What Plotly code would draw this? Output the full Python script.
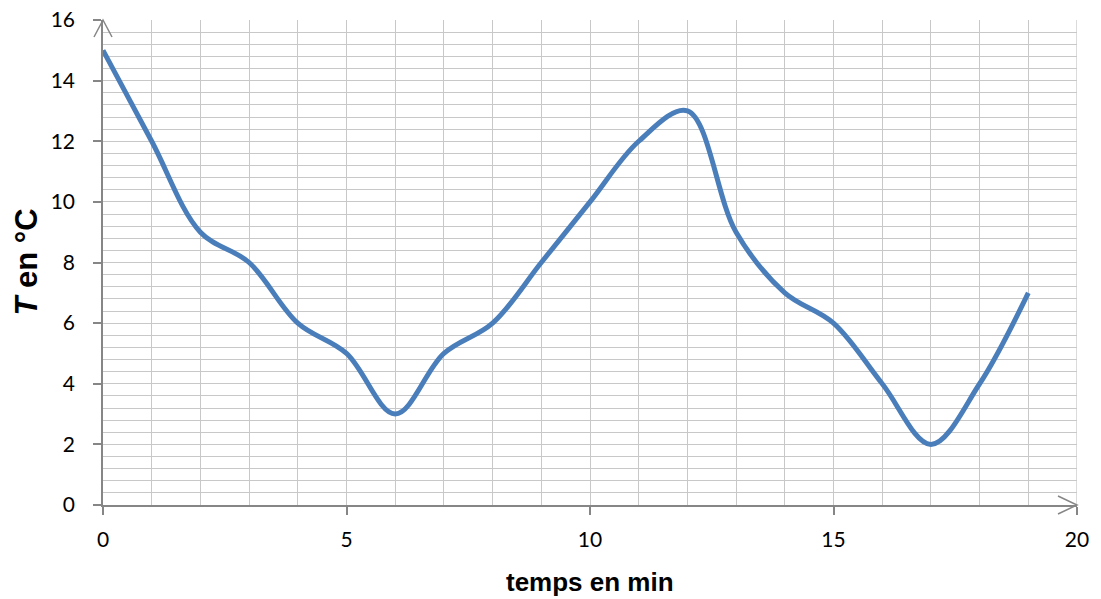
import plotly.graph_objects as go

temps = [0, 1, 2, 3, 4, 5, 6, 7, 8, 9, 10, 11, 12, 13, 14, 15, 16, 17, 18, 19]
T = [15, 12, 9, 8, 6, 5, 3, 5, 6, 8, 10, 12, 13, 9, 7, 6, 4, 2, 4, 7]
x_ticks = [0, 5, 10, 15, 20]
y_ticks = [0, 2, 4, 6, 8, 10, 12, 14, 16]

axis_col = "#868686"
grid_col = "#c8c8c8"

fig = go.Figure()
fig.add_trace(go.Scatter(
    x=temps, y=T, mode="lines",
    line=dict(color="#4a7ebb", width=5, shape="spline", smoothing=1.0),
    hoverinfo="x+y", showlegend=False,
))

tick_font = dict(family="Lato, Open Sans, sans-serif", size=21, color="#000000")
title_font = "Liberation Sans, Arial, sans-serif"

fig.update_layout(
    width=1101, height=599,
    margin=dict(l=103, r=24, t=20, b=94, autoexpand=False),
    paper_bgcolor="white", plot_bgcolor="white",
    xaxis=dict(
        range=[0, 20], tickvals=x_ticks, ticktext=[str(v) for v in x_ticks],
        showgrid=True, gridcolor=grid_col, gridwidth=1.3,
        minor=dict(dtick=1, showgrid=True, gridcolor=grid_col, gridwidth=1.3),
        showline=True, linecolor=axis_col, linewidth=1.5,
        ticks="outside", ticklen=8, tickcolor=axis_col, tickwidth=1.5,
        tickfont=tick_font, zeroline=False, automargin=False,
        ticklabelstandoff=7, ticklabeloverflow="allow",
    ),
    yaxis=dict(
        range=[0, 16], tickvals=y_ticks, ticktext=[str(v) for v in y_ticks],
        showgrid=True, gridcolor=grid_col, gridwidth=1.3,
        minor=dict(dtick=0.4, showgrid=True, gridcolor=grid_col, gridwidth=1.3),
        showline=True, linecolor=axis_col, linewidth=1.5,
        ticks="outside", ticklen=8, tickcolor=axis_col, tickwidth=1.5,
        tickfont=tick_font, zeroline=False, automargin=False,
        ticklabelstandoff=14, ticklabeloverflow="allow",
    ),
)

# axis titles
fig.add_annotation(text="<b>temps en min</b>", xref="paper", yref="paper",
                   x=0.5, y=0, xanchor="center", yanchor="middle", yshift=-77,
                   showarrow=False,
                   font=dict(family=title_font, size=26, color="#000"))
fig.add_annotation(text="<b><i>T</i> en °C</b>", xref="paper", yref="paper",
                   x=0, y=0.5, xanchor="center", yanchor="middle", xshift=-77,
                   yshift=0, textangle=-90, showarrow=False,
                   font=dict(family=title_font, size=31, color="#000"))

# right border grid line
fig.add_shape(type="line", xref="x", yref="y", x0=20, x1=20, y0=0, y1=16,
              line=dict(color=grid_col, width=1.3), layer="below")

# axis arrowheads (open chevrons)
fig.add_shape(type="path", xref="paper", yref="paper", xsizemode="pixel", ysizemode="pixel",
              xanchor=0, yanchor=1,
              path="M -9,-17 L 0,0 L 9,-17",
              line=dict(color=axis_col, width=1.5))
fig.add_shape(type="path", xref="paper", yref="paper", xsizemode="pixel", ysizemode="pixel",
              xanchor=1, yanchor=0,
              path="M -19,9 L 0,0 L -19,-9",
              line=dict(color=axis_col, width=1.5))

fig.write_html("out.html", config={"displayModeBar": False},
               post_script="document.body.style.margin='0';")
